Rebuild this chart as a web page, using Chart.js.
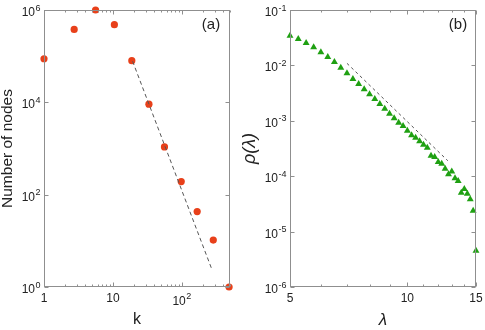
<!DOCTYPE html>
<html><head><meta charset="utf-8">
<script src="https://cdn.jsdelivr.net/npm/chart.js@4/dist/chart.umd.min.js"></script>
<style>
html,body{margin:0;padding:0;background:#fff;}
#wrap{position:relative;width:485px;height:330px;overflow:hidden;}
.c{position:absolute;top:0;height:330px;}
</style></head><body>
<div id="wrap">
<div class="c" style="left:0;width:242px"><canvas id="ca"></canvas></div>
<div class="c" style="left:242px;width:243px"><canvas id="cb"></canvas></div>
</div>
<script>
// ---- Panel (a): degree distribution ----
const degreeK   = [1, 2.74, 5.6, 10.5, 18.8, 33.3, 56, 98, 167, 286, 485];
const nodeCount = [88000, 380000, 1000000, 480000, 80000, 9100, 1080, 192, 43, 10.4, 1];
const fitAK = [19.3, 277];
const fitAY = [77600, 2.27];
const aXMajor = [1, 10, 100];
const aXLabels = [['1',''], ['10',''], ['10','2']];
const aXMinor = [2,3,4,5,6,7,8,9,20,30,40,50,60,70,80,90,200,300,400,500];
const aYMajor = [1, 100, 10000, 1000000];
const aYLabels = [['10','0'], ['10','2'], ['10','4'], ['10','6']];

// ---- Panel (b): eigenvalue density ----
const lambda = [5, 5.25, 5.5, 5.75, 6, 6.25, 6.5, 6.75, 7, 7.25, 7.5, 7.75, 8, 8.25, 8.5, 8.75,
  9, 9.25, 9.5, 9.75, 10, 10.25, 10.5, 10.75, 11, 11.25, 11.5, 11.75, 12, 12.25, 12.5, 12.75,
  13, 13.25, 13.5, 13.75, 14, 14.25, 14.5, 14.75, 15];
const rho = [0.0344, 0.0300, 0.0254, 0.0212, 0.0172, 0.0142, 0.0115, 0.00908, 0.00719, 0.00569,
  0.00462, 0.00370, 0.00301, 0.00248, 0.00201, 0.00165, 0.00134, 0.00111, 0.000924, 0.000805,
  0.000662, 0.000547, 0.000495, 0.000427, 0.000371, 0.000327, 0.000234, 0.000222, 0.000180,
  0.000168, 0.000137, 0.000108, 0.000121, 0.0000916, 0.0000818, 0.0000503, 0.0000587,
  0.0000483, 0.0000383, 0.0000238, 0.00000452];
const fitBX = [7.0, 12.7];
const fitBY = [0.0109, 0.00019];
const bXMajor = [5, 10, 15];
const bXLabels = [['5',''], ['10',''], ['15','']];
const bXMinor = [6,7,8,9,11,12,13,14];
const bYMajor = [1e-6, 1e-5, 1e-4, 1e-3, 1e-2, 1e-1];
const bYLabels = [['10','-6'], ['10','-5'], ['10','-4'], ['10','-3'], ['10','-2'], ['10','-1']];

const FONT = "'Liberation Sans', Arial, Helvetica, sans-serif";
const AXC = '#8f8f8f';
const TXC = '#222';

function drawPow(ctx, base, exp, x, y, align, vmode) {
  ctx.font = '12px ' + FONT;
  const bw = ctx.measureText(base).width;
  ctx.font = '9px ' + FONT;
  const ew = exp ? ctx.measureText(exp).width + 0.5 : 0;
  const total = bw + ew;
  let x0 = align === 'right' ? x - total : x - total / 2;
  let by;
  if (vmode === 'x') { by = y + 9 + (exp ? 3 : 0); }
  else { by = y + 6; }
  ctx.fillStyle = TXC;
  ctx.textAlign = 'left';
  ctx.textBaseline = 'alphabetic';
  ctx.font = '12px ' + FONT;
  ctx.fillText(base, x0, by);
  if (exp) {
    ctx.font = '9px ' + FONT;
    ctx.fillText(exp, x0 + bw + 0.5, by - 5.5);
  }
}

const framePlugin = {
  id: 'frame',
  afterDraw(chart, args, o) {
    const ctx = chart.ctx;
    const ca = chart.chartArea;
    const xs = chart.scales.x, ys = chart.scales.y;
    const L = Math.round(ca.left) + 0.5, R = Math.round(ca.right) - 0.5;
    const T = Math.round(ca.top) + 0.5, B = Math.round(ca.bottom) - 0.5;
    ctx.save();
    ctx.strokeStyle = AXC; ctx.lineWidth = 1;
    ctx.strokeRect(L, T, R - L, B - T);
    ctx.beginPath();
    o.xMajor.forEach(v => { const p = Math.round(xs.getPixelForValue(v)) + 0.5;
      ctx.moveTo(p, B); ctx.lineTo(p, B - 4); ctx.moveTo(p, T); ctx.lineTo(p, T + 4); });
    o.xMinor.forEach(v => { const p = Math.round(xs.getPixelForValue(v)) + 0.5;
      ctx.moveTo(p, B); ctx.lineTo(p, B - 2); ctx.moveTo(p, T); ctx.lineTo(p, T + 2); });
    o.yMajor.forEach(v => { const p = Math.round(ys.getPixelForValue(v)) + 0.5;
      ctx.moveTo(L, p); ctx.lineTo(L + 4, p); ctx.moveTo(R, p); ctx.lineTo(R - 4, p); });
    ctx.stroke();
    o.xMajor.forEach((v, i) => drawPow(ctx, o.xLabels[i][0], o.xLabels[i][1], xs.getPixelForValue(v), B + 6, 'center', 'x'));
    o.yMajor.forEach((v, i) => drawPow(ctx, o.yLabels[i][0], o.yLabels[i][1], L - 4, ys.getPixelForValue(v), 'right', 'y'));
    ctx.fillStyle = TXC;
    ctx.textAlign = 'center'; ctx.textBaseline = 'middle';
    ctx.font = o.xTitleFont;
    ctx.fillText(o.xTitle, (L + R) / 2, o.xTitleY);
    ctx.save();
    ctx.translate(o.yTitleX, (T + B) / 2);
    ctx.rotate(-Math.PI / 2);
    ctx.font = o.yTitleFont;
    ctx.fillText(o.yTitle, 0, 0);
    ctx.restore();
    ctx.font = '15px ' + FONT;
    ctx.fillText(o.tag, o.tagX, o.tagY);
    ctx.restore();
  }
};

function axisOpts(min, max, w, h) {
  return {
    x: { type: 'logarithmic', min: min[0], max: max[0], display: true,
         grid: { display: false }, border: { display: false }, ticks: { display: false },
         afterFit: s => { s.height = h; } },
    y: { type: 'logarithmic', min: min[1], max: max[1], display: true,
         grid: { display: false }, border: { display: false }, ticks: { display: false },
         afterFit: s => { s.width = w; } }
  };
}

new Chart(document.getElementById('ca'), {
  type: 'scatter',
  data: { datasets: [
    { type: 'line', data: fitAK.map((k, i) => ({ x: k, y: fitAY[i] })), borderColor: '#555',
      borderWidth: 1, borderDash: [4, 3], pointRadius: 0, fill: false, clip: false },
    { data: degreeK.map((k, i) => ({ x: k, y: nodeCount[i] })), backgroundColor: '#e8401a',
      borderWidth: 0, pointRadius: 3.6, pointStyle: 'circle', clip: false }
  ]},
  options: {
    responsive: true, maintainAspectRatio: false, animation: false,
    layout: { padding: { left: 0, right: 12, top: 10, bottom: 0 } },
    plugins: { legend: { display: false }, tooltip: { enabled: false },
      frame: { xMajor: aXMajor, xLabels: aXLabels, xMinor: aXMinor, yMajor: aYMajor, yLabels: aYLabels,
        xTitle: 'k', xTitleFont: '16px ' + FONT, xTitleY: 320,
        yTitle: 'Number of nodes', yTitleFont: '15.5px ' + FONT, yTitleX: 8,
        tag: '(a)', tagX: 211, tagY: 25 } },
    scales: axisOpts([1, 1], [500, 1e6], 44, 43)
  },
  plugins: [framePlugin]
});

new Chart(document.getElementById('cb'), {
  type: 'scatter',
  data: { datasets: [
    { type: 'line', data: fitBX.map((k, i) => ({ x: k, y: fitBY[i] })), borderColor: '#555',
      borderWidth: 1, borderDash: [3, 3], pointRadius: 0, fill: false, clip: false },
    { data: lambda.map((l, i) => ({ x: l, y: rho[i] })), backgroundColor: '#1fa012',
      borderWidth: 0, pointRadius: 4, pointStyle: 'triangle', clip: false }
  ]},
  options: {
    responsive: true, maintainAspectRatio: false, animation: false,
    layout: { padding: { left: 0, right: 9, top: 10, bottom: 0 } },
    plugins: { legend: { display: false }, tooltip: { enabled: false },
      frame: { xMajor: bXMajor, xLabels: bXLabels, xMinor: bXMinor, yMajor: bYMajor, yLabels: bYLabels,
        xTitle: 'λ', xTitleFont: 'italic 17px ' + FONT, xTitleY: 320,
        yTitle: 'ρ(λ)', yTitleFont: 'italic 18px ' + FONT, yTitleX: 8,
        tag: '(b)', tagX: 216, tagY: 25 } },
    scales: axisOpts([5, 1e-6], [15, 0.1], 48, 43)
  },
  plugins: [framePlugin]
});
</script>
</body></html>
